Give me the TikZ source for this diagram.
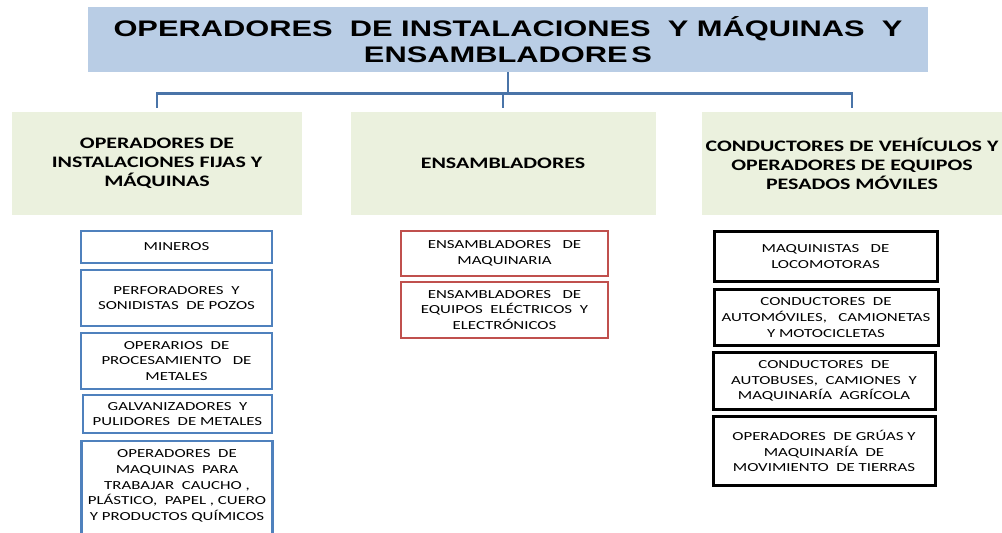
\documentclass[tikz,border=0pt]{standalone}
\usepackage{fontspec}
\setmainfont[FakeStretch=1.37]{Carlito}
\newfontfamily\titlefont[FakeStretch=1.37]{Liberation Sans}
\usepackage{tikz}

\definecolor{titleblue}{HTML}{B9CDE5}
\definecolor{palegreen}{HTML}{EBF1DE}
\definecolor{linkblue}{HTML}{4A74A8}
\definecolor{boxblue}{HTML}{4F81BD}
\definecolor{boxred}{HTML}{C0504D}

\begin{document}
\begin{tikzpicture}[x=1pt, y=-1pt,
    titlebox/.style={fill=titleblue, minimum width=840pt, minimum height=65pt, align=center,
      font=\titlefont\bfseries\fontsize{22.5}{26.5}\selectfont},
    groupbox/.style={fill=palegreen, minimum height=103pt, align=center,
      font=\bfseries\fontsize{16}{19}\selectfont},
    jobbox/.style={draw, fill=white, align=center, inner sep=2pt,
      font=\fontsize{12.3}{15.7}\selectfont},
    bluebox/.style={jobbox, draw=boxblue, line width=2.8pt, minimum width=191pt},
    redbox/.style={jobbox, draw=boxred, line width=2.8pt, minimum width=207pt},
    blackbox/.style={jobbox, draw=black, line width=3pt, minimum width=222pt},
    link/.style={draw=linkblue, line width=2.8pt}]
  \useasboundingbox (0,0) rectangle (1002,533);
  \clip (0,0) rectangle (1002,533);

  % top level
  \node (title) at (508,39.5) [titlebox] {OPERADORES\ \ DE INSTALACIONES\ \ Y M\'AQUINAS\ \ Y\\ENSAMBLADORE\,S};

  % groups
  \node (fijas) at (157,163.5) [groupbox, minimum width=290pt] {OPERADORES DE\\INSTALACIONES FIJAS Y\\M\'AQUINAS};
  \node (ensam) at (503,163.5) [groupbox, minimum width=305pt] {ENSAMBLADORES};
  \node (conduc) at (852,163.5) [groupbox, minimum width=298pt] {CONDUCTORES DE VEH\'ICULOS Y\\OPERADORES DE EQUIPOS\\PESADOS M\'OVILES};

  % connectors
  \coordinate (bar) at ([yshift=-21pt]title.south);
  \draw [link] (title.south) -- (bar);
  \draw [link, shorten <=4pt, shorten >=4pt] (fijas.north) |- (bar) -| (conduc.north);
  \draw [link, shorten >=4pt] (ensam.north |- bar) -- (ensam.north);

  % installations and machines
  \node (miner) at (176.5,247) [bluebox, minimum height=32pt] {MINEROS};
  \node (perfor) at (176.5,298) [bluebox, minimum height=56pt] {PERFORADORES\ \ Y\\SONIDISTAS\ \ DE\ POZOS};
  \node (operar) at (176.5,361) [bluebox, minimum height=56pt] {OPERARIOS\ \ DE\\PROCESAMIENTO\ \ \ DE\\METALES};
  \node (galva) at (177.5,414) [bluebox, minimum width=189pt, minimum height=38pt] {GALVANIZADORES\ \ Y\\PULIDORES\ \ DE METALES};
  \node (maqui) at (177,500) [bluebox, minimum height=118pt] {OPERADORES\ \ DE\\MAQUINAS\ \ PARA\\TRABAJAR\ \ CAUCHO ,\\PL\'ASTICO,\ \ PAPEL , CUERO\\Y PRODUCTOS QU\'IMICOS\\[14pt]};

  % assemblers
  \node (ensmaq) at (504.5,253.5) [redbox, minimum height=45pt] {ENSAMBLADORES\ \ \ DE\\MAQUINARIA};
  \node (enselec) at (504.5,310) [redbox, minimum height=56pt] {ENSAMBLADORES\ \ \ DE\\EQUIPOS\ \ EL\'ECTRICOS\ \ Y\\ELECTR\'ONICOS};

  % drivers
  \node (locom) at (825.5,256.5) [blackbox, minimum width=223pt, minimum height=50pt] {MAQUINISTAS\ \ \ DE\\LOCOMOTORAS};
  \node (autom) at (826,317.5) [blackbox, minimum width=224pt, minimum height=56pt] {CONDUCTORES\ \ DE\\AUTOM\'OVILES,\ \ \ CAMIONETAS\\Y\ MOTOCICLETAS};
  \node (autob) at (824,381) [blackbox, minimum height=57pt] {CONDUCTORES\ \ DE\\AUTOBUSES,\ \ CAMIONES\ \ Y\\MAQUINAR\'IA\ \ AGR\'ICOLA};
  \node (gruas) at (824,451) [blackbox, minimum height=69pt] {OPERADORES\ \ DE GR\'UAS Y\\MAQUINAR\'IA\ \ DE\\MOVIMIENTO\ \ DE TIERRAS};
\end{tikzpicture}
\end{document}
